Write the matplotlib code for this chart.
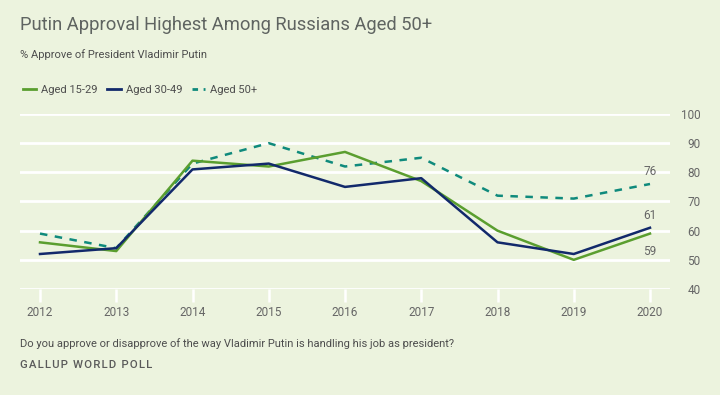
import matplotlib
matplotlib.use("Agg")
import matplotlib.pyplot as plt
from matplotlib.lines import Line2D

years = [2012, 2013, 2014, 2015, 2016, 2017, 2018, 2019, 2020]
aged_15_29 = [56, 53, 84, 82, 87, 77, 60, 50, 59]
aged_30_49 = [52, 54, 81, 83, 75, 78, 56, 52, 61]
aged_50_plus = [59, 54, 83, 90, 82, 85, 72, 71, 76]
series_names = ["Aged 15-29", "Aged 30-49", "Aged 50+"]
y_ticks = [40, 50, 60, 70, 80, 90, 100]

BG = "#ecf3de"
GREEN = "#5a9e2f"
NAVY = "#12296b"
TEAL = "#0f8a7c"
GREY = "#666666"

plt.rcParams["font.family"] = ["Roboto", "DejaVu Sans"]

fig = plt.figure(figsize=(7.2, 3.95), dpi=100, facecolor=BG)
ax = fig.add_axes([20/720, 106/395, 650/720, 175/395], facecolor=BG)

ax.set_xlim(2012 - 20/76.25, 2020 + 20/76.25)
ax.set_ylim(40, 100)
for y in y_ticks:
    ax.axhline(y, color="white", lw=2, zorder=1)

ax.plot(years, aged_15_29, color=GREEN, lw=1.8, zorder=3, label=series_names[0])
ax.plot(years, aged_30_49, color=NAVY, lw=1.8, zorder=4, label=series_names[1])
ax.plot(years, aged_50_plus, color=TEAL, lw=1.8, ls=(0, (3, 3)), zorder=2, label=series_names[2])

for s in ax.spines.values():
    s.set_visible(False)

ax.set_xticks(years)
ax.set_xticklabels([str(y) for y in years])
ax.tick_params(axis="x", length=9, width=1.8, color="white", labelsize=8.5,
               labelcolor=GREY, pad=3)
ax.yaxis.tick_right()
ax.set_yticks(y_ticks)
ax.set_yticklabels([str(y) for y in y_ticks])
ax.tick_params(axis="y", length=0, labelsize=8.5, labelcolor=GREY, pad=22)
for lbl in ax.get_yticklabels():
    lbl.set_horizontalalignment("right")

# end labels
ax.annotate(str(aged_50_plus[-1]), (years[-1], aged_50_plus[-1]), xytext=(0, 4),
            textcoords="offset points", ha="center", va="bottom", fontsize=8.5, color=GREY)
ax.annotate(str(aged_30_49[-1]), (years[-1], aged_30_49[-1]), xytext=(0, 4),
            textcoords="offset points", ha="center", va="bottom", fontsize=8.5, color=GREY)
ax.annotate(str(aged_15_29[-1]), (years[-1], aged_15_29[-1]), xytext=(0, -8),
            textcoords="offset points", ha="center", va="top", fontsize=8.5, color=GREY)

fig.text(20/720, 1 - 25/395, "Putin Approval Highest Among Russians Aged 50+", fontsize=13.2,
         color="#5f6461", va="center", ha="left")
fig.text(20/720, 1 - 55/395, "% Approve of President Vladimir Putin", fontsize=8,
         color="#4d4d4d", va="center", ha="left")

handles = [Line2D([], [], color=GREEN, lw=2),
           Line2D([], [], color=NAVY, lw=2),
           Line2D([], [], color=TEAL, lw=2, ls=(0, (2, 2)))]
leg = fig.legend(handles, series_names, loc="center left", bbox_to_anchor=(13/720, 1 - 90/395),
                 ncol=3, frameon=False, fontsize=8, handlelength=1.2, handletextpad=0.45,
                 columnspacing=0.85, labelcolor="#4d4d4d")

fig.text(20/720, 1 - 344/395, "Do you approve or disapprove of the way Vladimir Putin is handling his job as president?",
         fontsize=8, color="#4d4d4d", va="center", ha="left")
fig.text(20/720, 1 - 365/395, "\u200a".join("GALLUP WORLD POLL"), fontsize=8.2, color="#5a5a5a",
         va="center", ha="left", fontweight="medium")

fig.savefig("out.png", dpi=100, facecolor=BG)
